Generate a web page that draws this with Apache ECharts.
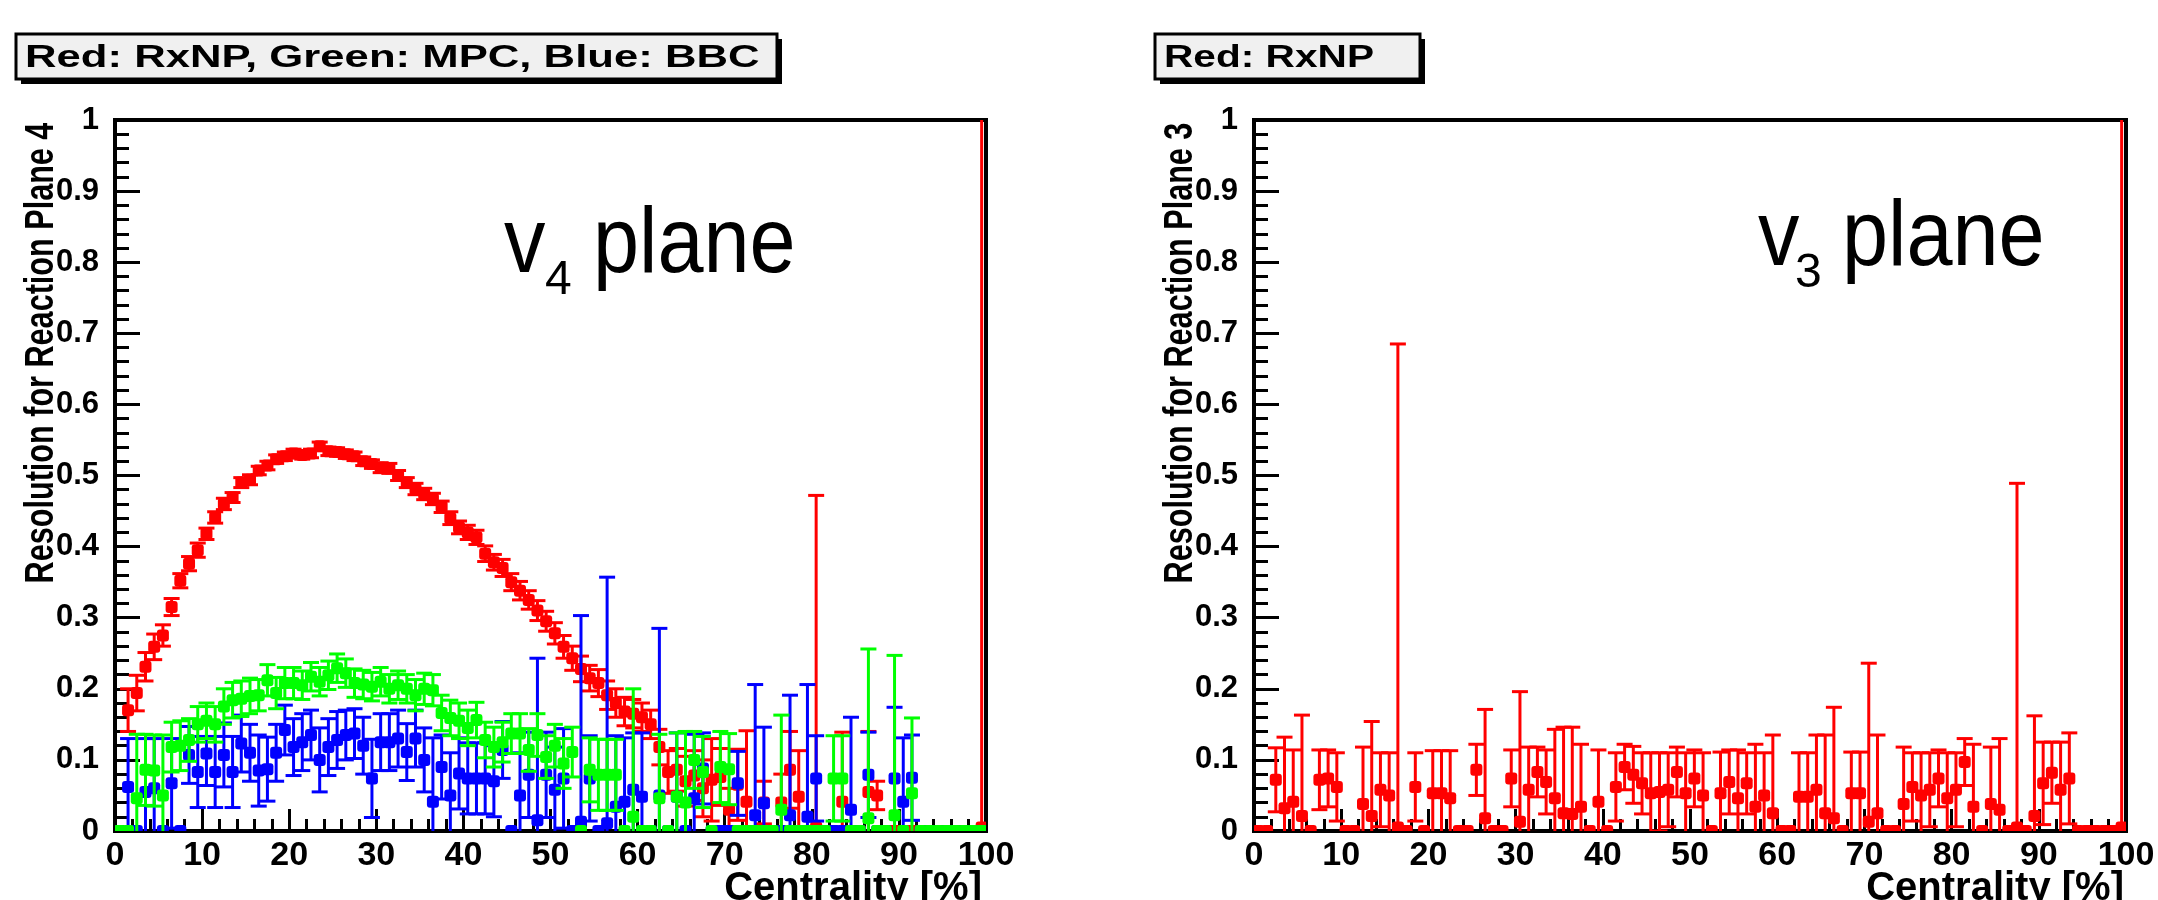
<!DOCTYPE html>
<html>
<head>
<meta charset="utf-8">
<script src="https://cdn.jsdelivr.net/npm/echarts@6/dist/echarts.min.js"></script>
<style>
  html, body { margin: 0; padding: 0; background: #fff; }
  #chart { width: 2158px; height: 900px; }
</style>
</head>
<body>
<div id="chart"></div>
<script>
// bins are 1% wide, 0..100
var binCount = 100;
var xTicks = [0, 10, 20, 30, 40, 50, 60, 70, 80, 90, 100];

// v4 plane, RxNP (red)
var rxnpV4 = [0, 0.170, 0.194, 0.231, 0.259, 0.275, 0.315, 0.352, 0.376, 0.395,
  0.418, 0.441, 0.460, 0.469, 0.490, 0.494, 0.507, 0.514, 0.523, 0.527,
  0.531, 0.529, 0.531, 0.541, 0.534, 0.533, 0.530, 0.527, 0.520, 0.516,
  0.511, 0.510, 0.500, 0.490, 0.481, 0.474, 0.467, 0.456, 0.440, 0.427,
  0.420, 0.413, 0.390, 0.378, 0.370, 0.350, 0.338, 0.325, 0.310, 0.295,
  0.278, 0.259, 0.243, 0.228, 0.215, 0.208, 0.191, 0.180, 0.168, 0.165,
  0.160, 0.150, 0.118, 0.083, 0.086, 0.070, 0.078, 0.060, 0.072, 0.076,
  0.030, 0.065, 0.041, 0, 0.040, 0, 0.040, 0.086, 0.048, 0,
  0.005, 0, 0, 0.041, 0, 0, 0.055, 0.050, 0, 0,
  0, 0, 0, 0, 0, 0, 0, 0, 0, 0.005];
var rxnpV4Err = [0, 0.030, 0.025, 0.020, 0.018, 0.015, 0.012, 0.010, 0.010, 0.010,
  0.008, 0.008, 0.008, 0.007, 0.007, 0.007, 0.006, 0.006, 0.006, 0.006,
  0.006, 0.006, 0.006, 0.006, 0.006, 0.006, 0.006, 0.006, 0.006, 0.006,
  0.007, 0.007, 0.007, 0.007, 0.008, 0.008, 0.008, 0.008, 0.009, 0.009,
  0.010, 0.010, 0.011, 0.011, 0.012, 0.012, 0.013, 0.013, 0.014, 0.014,
  0.015, 0.016, 0.017, 0.018, 0.018, 0.019, 0.020, 0.020, 0.020, 0.020,
  0.020, 0.020, 0.025, 0.030, 0.030, 0.035, 0.035, 0.040, 0.058, 0.040,
  0.030, 0.050, 0.100, 0, 0.030, 0, 0.040, 0.054, 0.065, 0,
  0.467, 0, 0, 0.098, 0, 0, 0.085, 0.020, 0, 0,
  0, 0, 0, 0, 0, 0, 0, 0, 0, 1.2];

// v4 plane, MPC (green)
var mpcV4 = [0, 0, 0.046, 0.086, 0.085, 0.050, 0.118, 0.120, 0.128, 0.150,
  0.155, 0.150, 0.175, 0.184, 0.186, 0.190, 0.191, 0.212, 0.194, 0.208,
  0.208, 0.205, 0.217, 0.210, 0.219, 0.229, 0.222, 0.208, 0.206, 0.203,
  0.210, 0.200, 0.205, 0.200, 0.191, 0.200, 0.198, 0.166, 0.159, 0.155,
  0.145, 0.156, 0.128, 0.118, 0.125, 0.137, 0.137, 0.114, 0.135, 0.104,
  0.120, 0.095, 0.111, 0, 0.086, 0.079, 0.079, 0.079, 0, 0.020,
  0, 0, 0.046, 0, 0.048, 0.040, 0.100, 0.083, 0, 0.090,
  0.087, 0, 0, 0, 0, 0, 0.030, 0, 0, 0,
  0, 0, 0.074, 0.074, 0, 0, 0.018, 0, 0, 0.022,
  0, 0.053, 0, 0, 0, 0, 0, 0, 0, 0];
var mpcV4Err = [0, 0, 0.090, 0.050, 0.050, 0.085, 0.035, 0.035, 0.030, 0.025,
  0.025, 0.025, 0.025, 0.025, 0.025, 0.025, 0.022, 0.022, 0.022, 0.022,
  0.022, 0.020, 0.020, 0.020, 0.020, 0.020, 0.020, 0.020, 0.020, 0.020,
  0.020, 0.020, 0.020, 0.020, 0.022, 0.022, 0.022, 0.025, 0.025, 0.025,
  0.025, 0.025, 0.025, 0.028, 0.028, 0.028, 0.028, 0.030, 0.030, 0.030,
  0.030, 0.035, 0.035, 0, 0.045, 0.050, 0.050, 0.050, 0, 0.180,
  0, 0, 0.090, 0, 0.090, 0.100, 0.040, 0.050, 0, 0.050,
  0.050, 0, 0, 0, 0, 0, 0.133, 0, 0, 0,
  0, 0, 0.060, 0.060, 0, 0, 0.238, 0, 0, 0.225,
  0, 0.106, 0, 0, 0, 0, 0, 0, 0, 0];

// v4 plane, BBC (blue)
var bbcV4 = [0, 0.062, 0, 0.055, 0.060, 0, 0.067, 0, 0.107, 0.083,
  0.109, 0.083, 0.107, 0.083, 0.123, 0.110, 0.085, 0.087, 0.110, 0.142,
  0.118, 0.125, 0.135, 0.100, 0.118, 0.128, 0.135, 0.137, 0.120, 0.074,
  0.125, 0.125, 0.130, 0.111, 0.130, 0.100, 0.041, 0.090, 0.050, 0.081,
  0.074, 0.074, 0.074, 0.070, 0.114, 0, 0.050, 0.079, 0.015, 0.079,
  0.058, 0.074, 0, 0.013, 0.074, 0, 0.011, 0.034, 0.041, 0.058,
  0.048, 0, 0.050, 0, 0.048, 0, 0.046, 0.088, 0, 0,
  0, 0.067, 0, 0.022, 0.039, 0, 0, 0.022, 0, 0.020,
  0.074, 0, 0, 0, 0.030, 0, 0.079, 0, 0, 0.074,
  0.041, 0.075, 0, 0, 0, 0, 0, 0, 0, 0];
var bbcV4Err = [0, 0.068, 0, 0.075, 0.070, 0, 0.063, 0, 0.040, 0.050,
  0.045, 0.050, 0.045, 0.050, 0.040, 0.040, 0.050, 0.045, 0.040, 0.035,
  0.040, 0.040, 0.035, 0.045, 0.040, 0.040, 0.035, 0.035, 0.040, 0.055,
  0.040, 0.040, 0.040, 0.040, 0.040, 0.045, 0.090, 0.045, 0.060, 0.050,
  0.050, 0.050, 0.050, 0.050, 0.040, 0, 0.060, 0.060, 0.228, 0.060,
  0.060, 0.070, 0, 0.290, 0.060, 0, 0.346, 0.100, 0.090, 0.080,
  0.090, 0, 0.235, 0, 0.090, 0, 0.090, 0.050, 0, 0,
  0, 0.045, 0, 0.184, 0.107, 0, 0, 0.169, 0, 0.186,
  0.060, 0, 0, 0, 0.130, 0, 0.060, 0, 0, 0.100,
  0.090, 0.060, 0, 0, 0, 0, 0, 0, 0, 0];

// v3 plane, RxNP (red)
var rxnpV3 = [0, 0, 0.072, 0.032, 0.041, 0.021, 0, 0.072, 0.074, 0.062,
  0, 0, 0.038, 0.021, 0.058, 0.050, 0.005, 0, 0.062, 0,
  0.053, 0.053, 0.046, 0, 0, 0.086, 0.018, 0, 0, 0.074,
  0.013, 0.058, 0.083, 0.069, 0.046, 0.025, 0.024, 0.034, 0, 0.041,
  0, 0.062, 0.090, 0.079, 0.067, 0.053, 0.055, 0.058, 0.083, 0.053,
  0.074, 0.050, 0, 0.053, 0.069, 0.046, 0.067, 0.034, 0.050, 0.025,
  0, 0, 0.048, 0.048, 0.058, 0.025, 0.018, 0, 0.053, 0.053,
  0.013, 0.025, 0, 0, 0.038, 0.062, 0.050, 0.058, 0.074, 0.046,
  0.058, 0.097, 0.034, 0, 0.038, 0.030, 0, 0.005, 0, 0.021,
  0.067, 0.082, 0.058, 0.074, 0, 0, 0, 0, 0, 0.005];
var rxnpV3Err = [0, 0, 0.045, 0.100, 0.073, 0.142, 0, 0.042, 0.040, 0.048,
  0, 0, 0.080, 0.133, 0.052, 0.060, 0.680, 0, 0.048, 0,
  0.060, 0.060, 0.067, 0, 0, 0.036, 0.153, 0, 0, 0.040,
  0.183, 0.060, 0.035, 0.045, 0.097, 0.121, 0.122, 0.088, 0, 0.073,
  0, 0.048, 0.032, 0.040, 0.043, 0.057, 0.055, 0.052, 0.035, 0.057,
  0.040, 0.060, 0, 0.058, 0.045, 0.068, 0.043, 0.088, 0.060, 0.110,
  0, 0, 0.062, 0.062, 0.077, 0.110, 0.156, 0, 0.058, 0.058,
  0.223, 0.110, 0, 0, 0.080, 0.048, 0.060, 0.052, 0.040, 0.064,
  0.052, 0.033, 0.088, 0, 0.080, 0.100, 0, 0.484, 0, 0.141,
  0.058, 0.043, 0.067, 0.064, 0, 0, 0, 0, 0, 1.2];

var FONT = '"Liberation Sans", Arial, sans-serif';

var binCenters = [];
for (var i = 0; i < binCount; i++) binCenters.push(i + 0.5);

function points(vals, errs) {
  return vals.map(function (v, i) { return [binCenters[i], v, errs[i]]; });
}

// ROOT style error bar: vertical bar with end caps, x bar over the bin, blocky marker
function errorBars(color) {
  return function (params, api) {
    var x = api.value(0), y = api.value(1), e = api.value(2);
    var c = api.coord([x, y]);
    var l = api.coord([x - 0.5, y]);
    var r = api.coord([x + 0.5, y]);
    var ls = { stroke: color, lineWidth: 3 };
    var cap = 8;
    var kids = [];
    if (e > 0) {
      var t = api.coord([x, y + e]);
      var b = api.coord([x, y - e]);
      kids.push({ type: 'line', shape: { x1: c[0], y1: t[1], x2: c[0], y2: b[1] }, style: ls });
      kids.push({ type: 'line', shape: { x1: c[0] - cap, y1: t[1], x2: c[0] + cap, y2: t[1] }, style: ls });
      kids.push({ type: 'line', shape: { x1: c[0] - cap, y1: b[1], x2: c[0] + cap, y2: b[1] }, style: ls });
    }
    kids.push({ type: 'line', shape: { x1: l[0], y1: c[1], x2: r[0], y2: c[1] }, style: ls });
    kids.push({ type: 'rect', shape: { x: c[0] - 6, y: c[1] - 6, width: 12, height: 12, r: 3 }, style: { fill: color } });
    return { type: 'group', children: kids };
  };
}

function makeSeries(name, idx, vals, errs, color) {
  return {
    name: name,
    type: 'custom',
    xAxisIndex: idx,
    yAxisIndex: idx,
    clip: true,
    renderItem: errorBars(color),
    encode: { x: 0, y: 1 },
    data: points(vals, errs)
  };
}

function xAxisFor(idx) {
  return {
    gridIndex: idx, type: 'value', min: 0, max: 100, interval: 10,
    axisLine: { show: true, onZero: false, lineStyle: { color: '#000', width: 4 } },
    axisTick: { show: true, inside: true, length: 22, lineStyle: { color: '#000', width: 3 } },
    minorTick: { show: true, splitNumber: 5, length: 12, lineStyle: { color: '#000', width: 3 } },
    splitLine: { show: false },
    axisLabel: { margin: 8, color: '#000', fontSize: 34, fontWeight: 'bold', fontFamily: FONT,
      formatter: function (v) { return xTicks.indexOf(v) >= 0 ? String(v) : ''; } }
  };
}

function yAxisFor(idx) {
  return {
    gridIndex: idx, type: 'value', min: 0, max: 1, interval: 0.1,
    axisLine: { show: true, onZero: false, lineStyle: { color: '#000', width: 4 } },
    axisTick: { show: true, inside: true, length: 25, lineStyle: { color: '#000', width: 3 } },
    minorTick: { show: true, splitNumber: 5, length: 14, lineStyle: { color: '#000', width: 3 } },
    splitLine: { show: false },
    axisLabel: { margin: 16, color: '#000', fontSize: 31, fontWeight: 'bold', fontFamily: FONT }
  };
}

function txt(x, y, text, font, opts) {
  opts = opts || {};
  return {
    type: 'text', x: x, y: y,
    rotation: opts.rotation || 0,
    scaleX: opts.scaleX || 1, scaleY: opts.scaleY || 1,
    z: 10,
    style: {
      text: text, font: font, fill: '#000',
      textAlign: opts.align || 'left', align: opts.align || 'left',
      textVerticalAlign: 'middle', verticalAlign: 'middle'
    }
  };
}

function titleBox(x, w, text, scaleX) {
  return [
    { type: 'rect', shape: { x: x + 5, y: 39, width: w, height: 45 }, style: { fill: '#000' }, z: 9 },
    { type: 'rect', shape: { x: x, y: 34, width: w, height: 45 }, style: { fill: '#f0f0f0', stroke: '#000', lineWidth: 3 }, z: 9 },
    txt(x + 9, 58, text, 'bold 32px ' + FONT, { scaleX: scaleX })
  ];
}

var chart = echarts.init(document.getElementById('chart'));
chart.setOption({
  backgroundColor: '#fff',
  animation: false,
  grid: [
    { left: 115, top: 120, width: 871, height: 711, show: true, borderColor: '#000', borderWidth: 4 },
    { left: 1254, top: 120, width: 872, height: 711, show: true, borderColor: '#000', borderWidth: 4 }
  ],
  xAxis: [xAxisFor(0), xAxisFor(1)],
  yAxis: [yAxisFor(0), yAxisFor(1)],
  series: [
    makeSeries('RxNP', 0, rxnpV4, rxnpV4Err, '#ff0000'),
    makeSeries('BBC', 0, bbcV4, bbcV4Err, '#0000ff'),
    makeSeries('MPC', 0, mpcV4, mpcV4Err, '#00ff00'),
    makeSeries('RxNP v3', 1, rxnpV3, rxnpV3Err, '#ff0000')
  ],
  graphic: [].concat(
    titleBox(16, 761, 'Red: RxNP, Green: MPC, Blue: BBC', 1.365),
    titleBox(1155, 265, 'Red: RxNP', 1.27),
    [
      txt(42, 353, 'Resolution for Reaction Plane 4', 'bold 30px ' + FONT, { rotation: Math.PI / 2, align: 'center', scaleX: 1.02, scaleY: 1.35 }),
      txt(1181, 353, 'Resolution for Reaction Plane 3', 'bold 30px ' + FONT, { rotation: Math.PI / 2, align: 'center', scaleX: 1.02, scaleY: 1.35 }),
      txt(982, 889, 'Centrality [%]', 'bold 40px ' + FONT, { align: 'right' }),
      txt(2124, 889, 'Centrality [%]', 'bold 40px ' + FONT, { align: 'right' }),
      txt(504, 247, 'v', '92px ' + FONT, { scaleX: 0.9 }),
      txt(545, 281, '4', '48px ' + FONT),
      txt(593, 247, 'plane', '92px ' + FONT, { scaleX: 0.9 }),
      txt(1758, 240, 'v', '92px ' + FONT, { scaleX: 0.9 }),
      txt(1795, 274, '3', '48px ' + FONT),
      txt(1842, 240, 'plane', '92px ' + FONT, { scaleX: 0.9 })
    ]
  )
});
</script>
</body>
</html>
